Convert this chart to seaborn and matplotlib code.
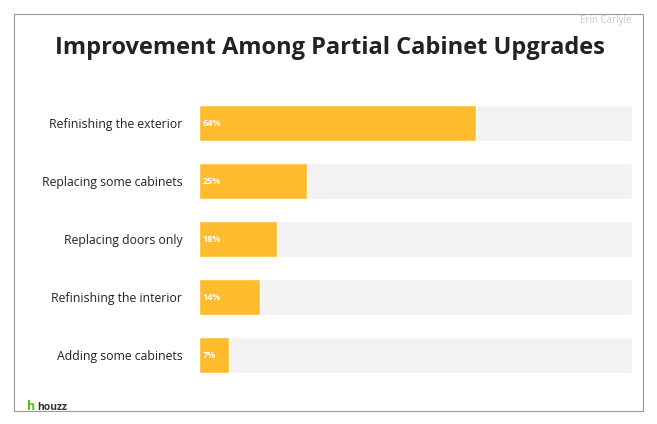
import matplotlib
matplotlib.use("Agg")
import matplotlib.pyplot as plt
import seaborn as sns
import pandas as pd
from matplotlib.patches import Rectangle

categories = ["Refinishing the exterior", "Replacing some cabinets", "Replacing doors only",
              "Refinishing the interior", "Adding some cabinets"]
values = [64, 25, 18, 14, 7]
df = pd.DataFrame({"cat": categories, "val": values, "full": [100]*5})

sns.set_theme(style="white")
plt.rcParams['font.family'] = ['Open Sans', 'DejaVu Sans']

fig = plt.figure(figsize=(6.57, 4.24), dpi=100)
fig.patches.append(Rectangle((14/657, 1-411/424), 629/657, 397/424, transform=fig.transFigure,
                             fill=False, edgecolor="#9a9a9a", lw=0.8))
ax = fig.add_axes([199/657, 40/424, 433/657, 290/424])
sns.barplot(data=df, y="cat", x="full", color="#f2f2f2", width=0.62, ax=ax, saturation=1)
sns.barplot(data=df, y="cat", x="val", color="#FDBB2D", width=0.62, ax=ax, saturation=1)
for i in range(5):
    for gx in range(68, 100, 8):
        ax.plot([gx, gx], [i-0.31, i+0.31], color="#dcdcdc", lw=0.5, ls=(0, (1, 3)), zorder=0.5)
for i, v in enumerate(values):
    ax.text(0.8, i, f"{v}%", color="white", fontsize=6.5, fontweight="bold", va="center", ha="left")
ax.set_xlim(0, 100)
ax.set_ylim(4.5, -0.5)
ax.set_xlabel(""); ax.set_ylabel("")
ax.set_xticks([])
ax.tick_params(axis="y", length=0, pad=12, labelsize=8.8, labelcolor="#222222")
for s in ax.spines.values():
    s.set_visible(False)
fig.text(330/657, 1-48/424, "Improvement Among Partial Cabinet Upgrades", ha="center", va="center",
         fontsize=17, fontweight="bold", color="#222222")
fig.text(632/657, 1-20/424, "Erin Carlyle", ha="right", va="center", fontsize=7, color="#c8c8c8")
fig.text(37/657, 1-407/424, "houzz", ha="left", va="center", fontsize=7.5, fontweight="bold", color="#333333")
fig.text(27/657, 1-407/424, "h", ha="left", va="center", fontsize=9, fontweight="bold", color="#4DBC15")
fig.savefig("out.png", dpi=100)
